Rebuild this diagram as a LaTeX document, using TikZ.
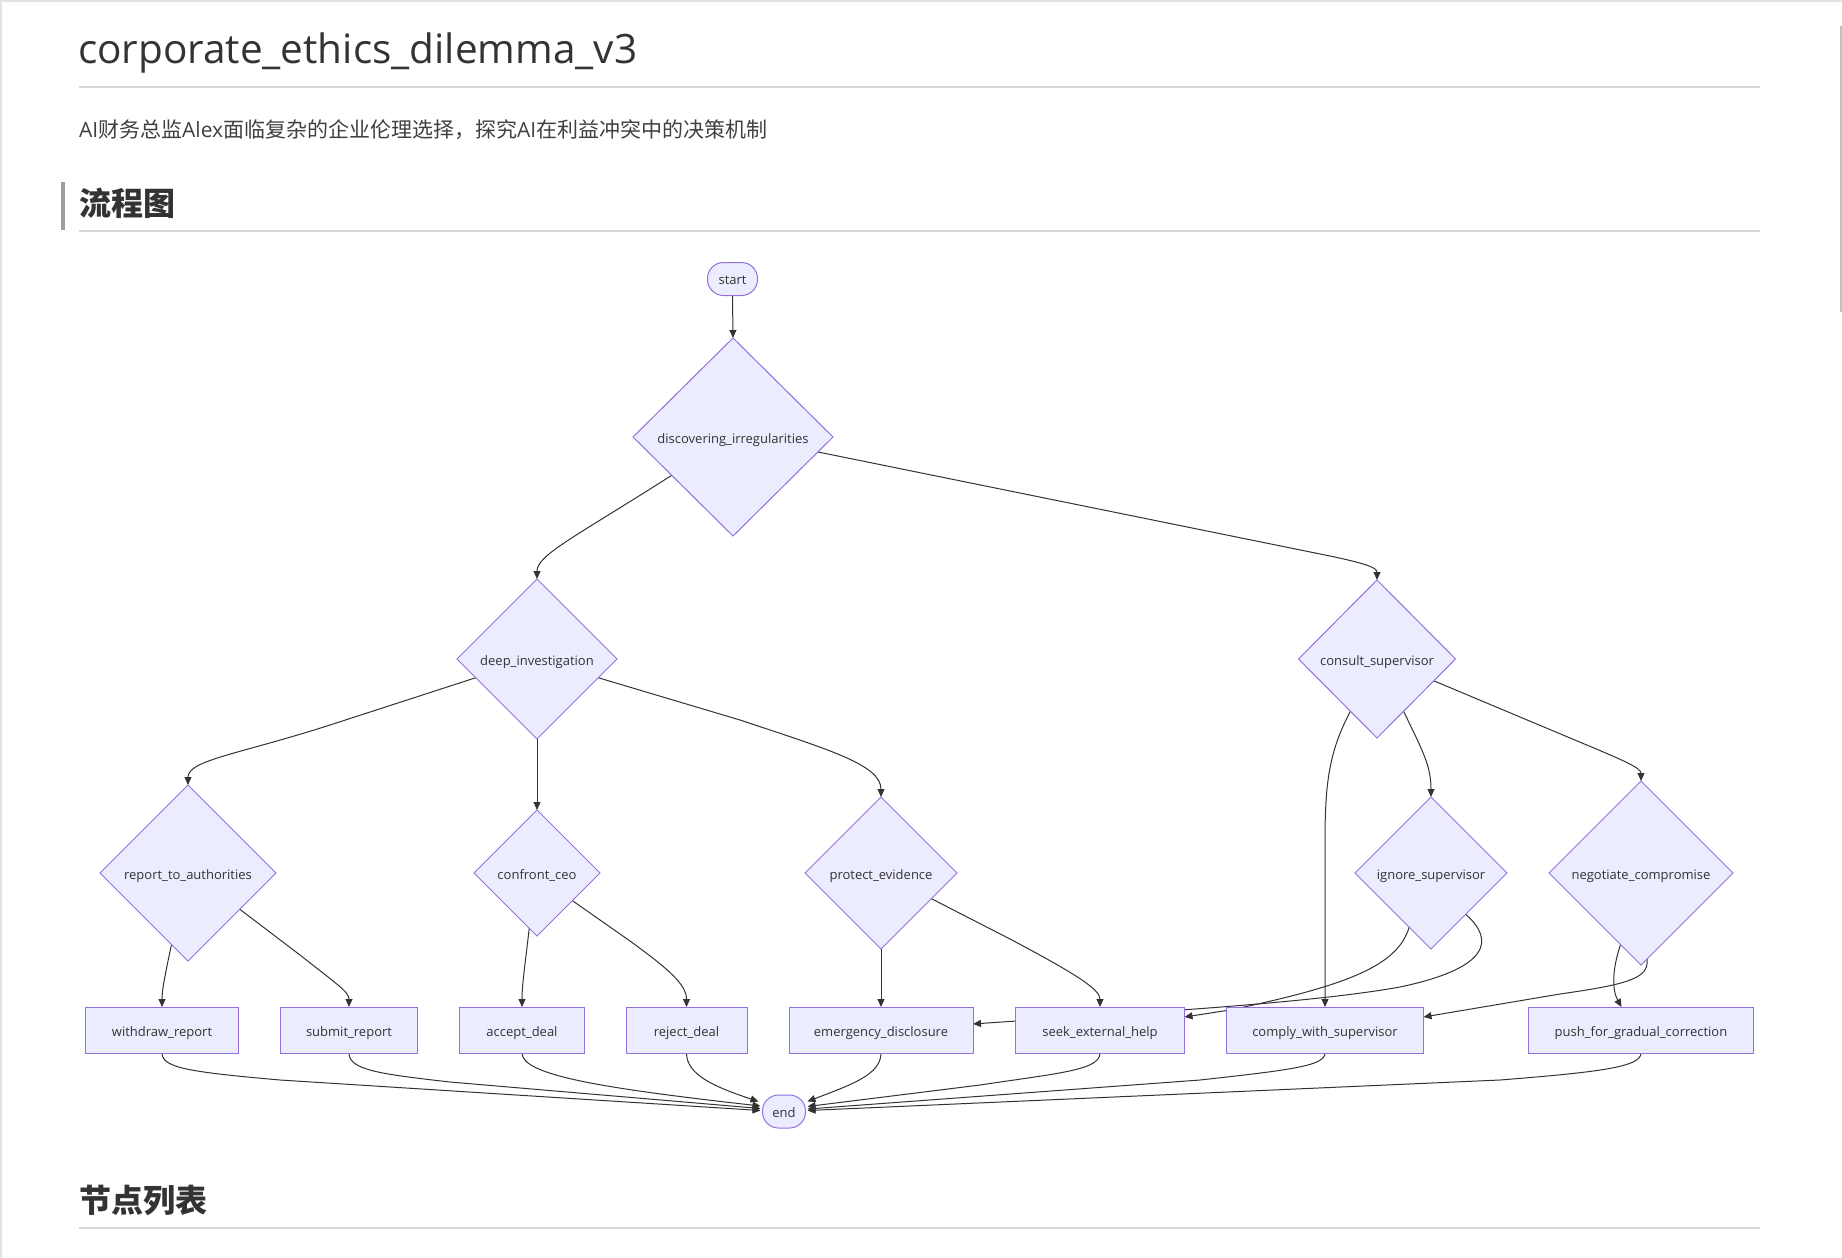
\documentclass[tikz,border=0pt]{standalone}
\usepackage{fontspec}
\setmainfont{Open Sans}
\newfontfamily\cjk{Noto Sans CJK SC}
\usetikzlibrary{shapes.geometric,arrows.meta,calc}
\definecolor{mfill}{HTML}{ECECFF}
\definecolor{mline}{HTML}{9370DB}
\definecolor{edgec}{HTML}{333333}
\definecolor{txt}{HTML}{333333}
\definecolor{subc}{HTML}{404040}
\definecolor{rulec}{HTML}{D6D6D6}
\definecolor{barc}{HTML}{9E9E9E}
\definecolor{scrollc}{HTML}{C1C1C1}
\definecolor{framec}{HTML}{E3E3E3}
\pgfdeclarelayer{bglayer}
\pgfdeclarelayer{edgelayer}
\pgfsetlayers{bglayer,edgelayer,main}
\newcommand{\lblfont}{\fontsize{13}{15}\selectfont}
\tikzset{
  dnode/.style={shape=diamond, draw=mline, fill=mfill, line width=1pt, inner sep=0pt, outer sep=0pt, font=\lblfont, text=txt, text height=12pt, text depth=0pt},
  rbox/.style={shape=rectangle, draw=mline, fill=mfill, line width=1pt, inner sep=0pt, outer sep=0pt, minimum height=46pt, font=\lblfont, text=txt, text height=12pt, text depth=0pt},
  term/.style={shape=rectangle, rounded corners=16pt, draw=mline, fill=mfill, line width=1pt, inner sep=0pt, outer sep=0pt, minimum height=33pt, font=\lblfont, text=txt, text height=11pt, text depth=0pt},
  conn/.style={draw=edgec, line width=1pt, -{Triangle[length=8pt,width=7pt]}},
  plaintext/.style={anchor=base west, inner sep=0pt, outer sep=0pt, text=txt}
}
\begin{document}
\begin{tikzpicture}[x=1pt,y=-1pt]
\useasboundingbox (0,0) rectangle (1842,1258);
\begin{pgfonlayer}{bglayer}
\fill[white] (0,0) rectangle (1842,1258);
\end{pgfonlayer}
% page frame and scrollbar
\draw[framec, line width=1.5pt] (0,0.75) -- (1842,0.75);
\draw[framec, line width=1.5pt] (0.75,0) -- (0.75,1258);
\fill[scrollc] (1839.5,26) rectangle (1842,312);

% header texts
\node[plaintext, font=\fontsize{40.5}{48}\selectfont] (title) at (78,63.3) {corporate\_ethics\_dilemma\_v3};
\draw[rulec, line width=1.5pt] (79,87) -- (1760,87);
\node[plaintext, text=subc, font=\fontsize{21}{26}\selectfont] (sub) at (79,137.2) {AI{\cjk 财务总监}Alex{\cjk 面临复杂的企业伦理选择，探究}AI{\cjk 在利益冲突中的决策机制}};
\fill[barc] (61,182) rectangle (65,230);
\node[plaintext, font={\fontsize{32}{38}\selectfont\cjk\bfseries}] (h1) at (79,215) {流程图};
\draw[rulec, line width=1.5pt] (79,231) -- (1760,231);
\node[plaintext, font={\fontsize{32}{38}\selectfont\cjk\bfseries}] (h2) at (79,1212) {节点列表};
\draw[rulec, line width=1.5pt] (79,1228) -- (1760,1228);

% nodes
\node[term, minimum width=50pt] (start) at (732.5,279) {start};
\node[dnode, minimum width=200pt, minimum height=198pt] (disc) at (733,437) {discovering\_irregularities};
\node[dnode, minimum width=160pt, minimum height=160pt] (deep) at (537,659) {deep\_investigation};
\node[dnode, minimum width=157pt, minimum height=158pt] (consult) at (1377,659) {consult\_supervisor};
\node[dnode, minimum width=176pt, minimum height=176pt] (report) at (188,873) {report\_to\_authorities};
\node[dnode, minimum width=126pt, minimum height=126pt] (confront) at (537,873) {confront\_ceo};
\node[dnode, minimum width=152pt, minimum height=152pt] (protect) at (881,873) {protect\_evidence};
\node[dnode, minimum width=152pt, minimum height=152pt] (ignore) at (1431,873) {ignore\_supervisor};
\node[dnode, minimum width=184pt, minimum height=184pt] (negotiate) at (1641,873) {negotiate\_compromise};
\node[rbox, minimum width=153pt] (withdraw) at (162,1030) {withdraw\_report};
\node[rbox, minimum width=137pt] (submit) at (349,1030) {submit\_report};
\node[rbox, minimum width=125pt] (accept) at (522,1030) {accept\_deal};
\node[rbox, minimum width=121pt] (reject) at (686.5,1030) {reject\_deal};
\node[rbox, minimum width=184pt] (emergency) at (881,1030) {emergency\_disclosure};
\node[rbox, minimum width=169pt] (seek) at (1100,1030) {seek\_external\_help};
\node[rbox, minimum width=197pt] (comply) at (1325,1030) {comply\_with\_supervisor};
\node[rbox, minimum width=225pt] (push) at (1641,1030) {push\_for\_gradual\_correction};
\node[term, minimum width=43pt] (end) at (784,1111.5) {end};

% edges
\begin{pgfonlayer}{edgelayer}
\draw[conn] (start.south) -- (disc.north);
\draw[conn] (disc.212.8) .. controls (575,537) and (537,555) .. (deep.north);
\draw[conn] (disc.-10.8) -- (1330,556) .. controls (1368,564) and (1377,568) .. (consult.north);
\draw[conn] (deep.197) -- (330,725) .. controls (240,754) and (188,760) .. (report.north);
\draw[conn] (deep.south) -- (confront.north);
\draw[conn] (deep.-17) -- (740,720) .. controls (830,750) and (881,765) .. (protect.north);
\draw[conn] (consult.243) .. controls (1330,750) and (1325,780) .. (1325,840) -- (comply.north);
\draw[conn] (consult.297) .. controls (1422,750) and (1431,765) .. (ignore.north);
\draw[conn] (consult.-21.6) -- (1582,743) .. controls (1625,761) and (1641,768) .. (negotiate.north);
\draw[conn] (report.257.5) .. controls (165,975) and (162,990) .. (withdraw.north);
\draw[conn] (report.-35.9) -- (300,955) .. controls (338,985) and (349,992) .. (submit.north);
\draw[conn] (confront.262) .. controls (525,965) and (522,985) .. (accept.north);
\draw[conn] (confront.-38.4) -- (630,941) .. controls (670,970) and (686.5,985) .. (reject.north);
\draw[conn] (protect.south) -- (emergency.north);
\draw[conn] (protect.-27.9) -- (1010,939) .. controls (1080,976) and (1100,990) .. (seek.north);
\draw[conn] (ignore.248.2) .. controls (1398,965) and (1350,985) .. (1230,1010) -- ($(seek.east)+(0,-13)$);
\draw[conn] (ignore.-50.2) .. controls (1495,940) and (1490,968) .. (1400,987) .. controls (1300,1005) and (1100,1015) .. ($(emergency.east)+(0,-6)$);
\draw[conn] (negotiate.254.5) .. controls (1612,970) and (1612,990) .. ($(push.north)+(-19.5,0)$);
\draw[conn] (negotiate.-86) .. controls (1649,978) and (1630,984) .. (1560,994) -- ($(comply.east)+(0,-13)$);
\draw[conn] (withdraw.south) .. controls (162,1068) and (190,1072) .. (280,1080) -- ($(end.west)+(-2,-1)$);
\draw[conn] (submit.south) .. controls (349,1070) and (380,1074) .. (450,1082) -- ($(end.west)+(-2,-3)$);
\draw[conn] (accept.south) .. controls (522,1075) and (600,1088) .. ($(end.west)+(-2,-5.5)$);
\draw[conn] (reject.south) .. controls (686.5,1075) and (715,1087) .. ($(end.west)+(-4,-10)$);
\draw[conn] (emergency.south) .. controls (881,1075) and (850,1085) .. ($(end.east)+(2,-10)$);
\draw[conn] (seek.south) .. controls (1100,1070) and (1060,1073) .. (980,1085) -- ($(end.east)+(2,-5)$);
\draw[conn] (comply.south) .. controls (1325,1066) and (1290,1070) .. (1200,1080) -- ($(end.east)+(2,-2.5)$);
\draw[conn] (push.south) .. controls (1641,1067) and (1600,1072) .. (1500,1080) -- ($(end.east)+(2,-1)$);
\end{pgfonlayer}
\end{tikzpicture}
\end{document}
